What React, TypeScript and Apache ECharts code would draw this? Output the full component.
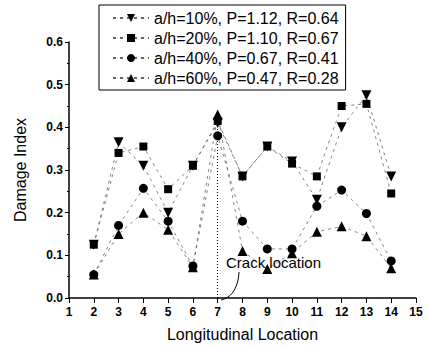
import React, { useEffect, useRef } from "react";
import * as echarts from "echarts";

const locations = [2, 3, 4, 5, 6, 7, 8, 9, 10, 11, 12, 13, 14];
const seriesNames = [
  "a/h=10%, P=1.12, R=0.64",
  "a/h=20%, P=1.10, R=0.67",
  "a/h=40%, P=0.67, R=0.41",
  "a/h=60%, P=0.47, R=0.28",
];
const ah10 = [0.125, 0.365, 0.31, 0.2, 0.31, 0.41, 0.285, 0.355, 0.32, 0.23, 0.4, 0.475, 0.285];
const ah20 = [0.125, 0.34, 0.355, 0.255, 0.31, 0.415, 0.285, 0.355, 0.315, 0.285, 0.45, 0.455, 0.245];
const ah40 = [0.055, 0.17, 0.257, 0.18, 0.075, 0.38, 0.18, 0.115, 0.115, 0.215, 0.253, 0.198, 0.087];
const ah60 = [0.055, 0.15, 0.2, 0.16, 0.072, 0.43, 0.11, 0.068, 0.105, 0.155, 0.168, 0.145, 0.07];
const crackX = 7;
const crackTop = 0.43;

const FONT = "Liberation Sans, Arial, sans-serif";

export default function App() {
  const ref = useRef<HTMLDivElement>(null);
  useEffect(() => {
    document.body.style.margin = "0";
    if (!ref.current) return;
    const chart = echarts.init(ref.current, null, { renderer: "svg" });
    const mk = (vals: number[]) => locations.map((x, i) => [x, vals[i]]);
    const lineStyle = { color: "#666", width: 0.8, type: [3, 4] as any };
    const base = (name: string, vals: number[], symbol: string, size: number, rot = 0) => ({
      name,
      type: "line",
      data: mk(vals),
      symbol,
      symbolSize: size,
      symbolRotate: rot,
      itemStyle: { color: "#000" },
      lineStyle,
      z: 3,
    });
    const s1: any = base(seriesNames[0], ah10, "triangle", 10, 180);
    const s2: any = base(seriesNames[1], ah20, "rect", 8);
    const s3: any = base(seriesNames[2], ah40, "circle", 9);
    const s4: any = base(seriesNames[3], ah60, "triangle", 10);
    s4.markLine = {
      silent: true,
      symbol: "none",
      label: { show: false },
      lineStyle: { color: "#000", type: [1, 2], width: 1 },
      data: [[{ coord: [crackX, 0] }, { coord: [crackX, crackTop] }]],
    };
    chart.setOption({
      animation: false,
      grid: { left: 69, right: 12, top: 42, bottom: 47 },
      legend: {
        orient: "vertical",
        left: 99,
        top: 5,
        itemGap: 2,
        itemWidth: 36,
        itemHeight: 10,
        padding: [4, 7, 3, 13],
        borderColor: "#000",
        borderWidth: 1,
        textStyle: { fontFamily: FONT, fontSize: 16, lineHeight: 18, color: "#000" },
        data: seriesNames,
      },
      xAxis: {
        type: "value",
        min: 1,
        max: 15,
        interval: 1,
        name: "Longitudinal Location",
        nameLocation: "middle",
        nameGap: 28,
        nameTextStyle: { fontFamily: FONT, fontSize: 16, color: "#000" },
        axisLine: { lineStyle: { color: "#000", width: 1.5 } },
        axisTick: { inside: false, length: 5, lineStyle: { color: "#000" } },
        axisLabel: { fontFamily: FONT, fontSize: 12, fontWeight: "bold", color: "#000", margin: 8 },
        splitLine: { show: false },
      },
      yAxis: {
        type: "value",
        min: 0,
        max: 0.6,
        interval: 0.1,
        name: "Damage Index",
        nameLocation: "middle",
        nameGap: 41,
        nameTextStyle: { fontFamily: FONT, fontSize: 16, color: "#000" },
        axisLine: { show: true, lineStyle: { color: "#000", width: 1.5 } },
        axisTick: { show: true, length: 4, lineStyle: { color: "#000" } },
        minorTick: { show: true, splitNumber: 2, length: 2, lineStyle: { color: "#000" } },
        axisLabel: {
          fontFamily: FONT,
          fontSize: 12,
          fontWeight: "bold",
          color: "#000",
          margin: 6,
          formatter: (v: number) => v.toFixed(1),
        },
        splitLine: { show: false },
      },
      graphic: [
        {
          type: "text",
          left: 226,
          top: 255,
          style: { text: "Crack location", fontFamily: FONT, fontSize: 15, fill: "#000" },
          z: 10,
        },
        {
          type: "bezierCurve",
          shape: { x1: 239, y1: 272, cpx1: 238, cpy1: 290, cpx2: 230, cpy2: 298, x2: 221, y2: 300 },
          style: { stroke: "#000", lineWidth: 1, fill: "none" },
          z: 10,
        },
      ],
      series: [s1, s2, s3, s4],
    });
    return () => chart.dispose();
  }, []);
  return <div ref={ref} style={{ width: 428, height: 347 }} />;
}
